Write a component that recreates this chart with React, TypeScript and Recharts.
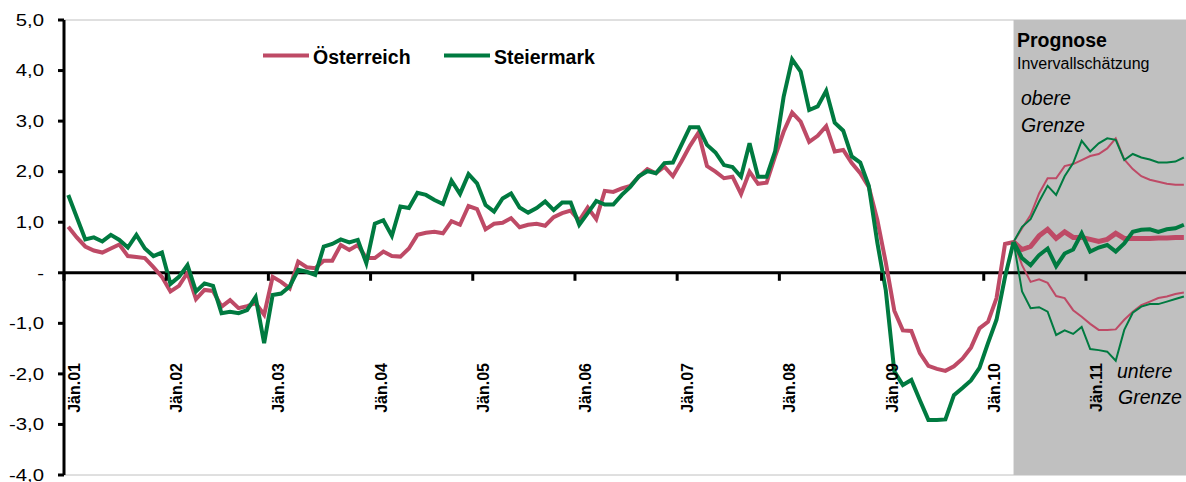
import React from 'react';
import {
  LineChart,
  Line,
  XAxis,
  YAxis,
  ReferenceArea,
  ReferenceLine,
  Legend
} from 'recharts';

// Monatswerte Jän.01 – Apr.10 (Index 0..111)
const oesterreich = [
  0.91, 0.70, 0.52, 0.44, 0.40, 0.48, 0.56, 0.33, 0.31, 0.29, 0.11, -0.08,
  -0.37, -0.26, 0.00, -0.52, -0.34, -0.36, -0.67, -0.54, -0.70, -0.66, -0.60, -0.83,
  -0.08, -0.18, -0.31, 0.22, 0.11, 0.09, 0.24, 0.24, 0.55, 0.45, 0.55, 0.29,
  0.29, 0.42, 0.33, 0.32, 0.48, 0.75, 0.79, 0.81, 0.78, 1.02, 0.95, 1.32,
  1.26, 0.86, 0.97, 0.99, 1.08, 0.90, 0.95, 0.97, 0.93, 1.10, 1.18, 1.23,
  1.03, 1.29, 1.06, 1.62, 1.60, 1.67, 1.72, 1.90, 2.05, 1.97, 2.10, 1.91,
  2.20, 2.51, 2.77, 2.11, 2.00, 1.87, 1.90, 1.56, 2.00, 1.76, 1.78, 2.30,
  2.79, 3.17, 2.99, 2.59, 2.71, 2.90, 2.40, 2.43, 2.17, 1.97, 1.70, 1.05,
  0.20, -0.75, -1.14, -1.15, -1.59, -1.84, -1.90, -1.94, -1.85, -1.70, -1.48, -1.10,
  -0.97, -0.50, 0.57, 0.61
];

const steiermark = [
  1.54, 1.10, 0.66, 0.70, 0.62, 0.75, 0.65, 0.50, 0.75, 0.48, 0.33, 0.40,
  -0.22, -0.08, 0.15, -0.37, -0.21, -0.26, -0.80, -0.77, -0.80, -0.74, -0.48, -1.39,
  -0.44, -0.41, -0.27, 0.06, 0.02, -0.04, 0.52, 0.57, 0.66, 0.60, 0.65, 0.19,
  0.97, 1.04, 0.73, 1.31, 1.28, 1.58, 1.54, 1.44, 1.36, 1.82, 1.56, 1.95,
  1.77, 1.34, 1.21, 1.47, 1.57, 1.29, 1.19, 1.28, 1.41, 1.24, 1.39, 1.39,
  0.95, 1.18, 1.42, 1.35, 1.35, 1.54, 1.70, 1.91, 2.01, 1.97, 2.17, 2.18,
  2.53, 2.88, 2.88, 2.53, 2.38, 2.13, 2.09, 1.90, 2.56, 1.90, 1.90, 2.40,
  3.48, 4.22, 3.98, 3.22, 3.29, 3.60, 2.97, 2.81, 2.30, 2.18, 1.72, 0.60,
  -0.35, -1.95, -2.22, -2.12, -2.52, -2.91, -2.91, -2.90, -2.42, -2.28, -2.13, -1.88,
  -1.39, -0.93, -0.08, 0.61
];

// Prognose Apr.10 – Dez.11 (Index 111..131)
const oeMitte = [0.61, 0.46, 0.52, 0.73, 0.86, 0.68, 0.81, 0.70, 0.70, 0.66, 0.62, 0.66, 0.78, 0.68, 0.68, 0.68, 0.68, 0.69, 0.69, 0.70, 0.70];
const oeOben = [0.61, 0.88, 1.14, 1.57, 1.87, 1.87, 2.11, 2.15, 2.23, 2.31, 2.35, 2.46, 2.66, 2.24, 2.05, 1.91, 1.84, 1.80, 1.76, 1.74, 1.74];
const oeUnten = [0.61, 0.15, -0.18, -0.13, -0.20, -0.46, -0.50, -0.74, -0.87, -1.01, -1.13, -1.13, -1.12, -0.93, -0.77, -0.64, -0.57, -0.50, -0.47, -0.42, -0.39];
const stMitte = [0.61, 0.29, 0.15, 0.35, 0.48, 0.13, 0.38, 0.46, 0.78, 0.42, 0.50, 0.55, 0.42, 0.58, 0.81, 0.85, 0.86, 0.81, 0.86, 0.88, 0.95];
const stOben = [0.61, 0.91, 1.06, 1.41, 1.72, 1.54, 1.91, 2.17, 2.61, 2.40, 2.56, 2.66, 2.63, 2.23, 2.35, 2.28, 2.24, 2.18, 2.18, 2.20, 2.28];
const stUnten = [0.61, -0.37, -0.70, -0.68, -0.77, -1.23, -1.14, -1.21, -1.07, -1.51, -1.53, -1.56, -1.74, -1.13, -0.79, -0.67, -0.62, -0.62, -0.57, -0.52, -0.47];

const tickLabels = ['Jän.01', 'Jän.02', 'Jän.03', 'Jän.04', 'Jän.05', 'Jän.06', 'Jän.07', 'Jän.08', 'Jän.09', 'Jän.10', 'Jän.11'];
const yTicks = [5, 4, 3, 2, 1, 0, -1, -2, -3, -4];

const PROG_START = 111;
const MONTHS = 132;

const RED = '#BE4A66';
const GREEN = '#007A40';
const FONT = '"Liberation Sans", Arial, Helvetica, sans-serif';

const W = 1186;
const H = 482;
const TOP = 20;
const BOTTOM_H = 7;
const Y_MIN = -4;
const Y_MAX = 5;
const plotH = H - TOP - BOTTOM_H;
const zeroY = TOP + (plotH * Y_MAX) / (Y_MAX - Y_MIN);

const data = Array.from({ length: MONTHS }, (_, i) => {
  const p = i - PROG_START;
  return {
    i,
    oe: i <= PROG_START ? oesterreich[i] : null,
    st: i <= PROG_START ? steiermark[i] : null,
    oeM: p >= 0 ? oeMitte[p] : null,
    oeO: p >= 0 ? oeOben[p] : null,
    oeU: p >= 0 ? oeUnten[p] : null,
    stM: p >= 0 ? stMitte[p] : null,
    stO: p >= 0 ? stOben[p] : null,
    stU: p >= 0 ? stUnten[p] : null
  };
});

// Jänner-Grenzen (Kategorien zwischen den Teilstrichen)
const xTicks = tickLabels.map((_, k) => k * 12 - 0.5);

const fmtY = (v: number) => (v === 0 ? '-' : v.toFixed(1).replace('.', ','));

const XTick = (props: any) => {
  const { x, index } = props;
  return (
    <g>
      <line x1={x} x2={x} y1={zeroY} y2={zeroY + 8} stroke="#000" strokeWidth={3} />
      <text
        transform={`translate(${x + 16},363) rotate(-90)`}
        textAnchor="end"
        fontFamily={FONT}
        fontWeight="bold"
        fontSize={16}
        fill="#000"
      >
        {tickLabels[index]}
      </text>
    </g>
  );
};

// Excel-Schrift der Achse wirkt breiter, daher leicht gestreckt
const YTick = (props: any) => {
  const { x, y, payload } = props;
  return (
    <text
      transform={`translate(${x},${y}) scale(1.27,1)`}
      dy="0.36em"
      textAnchor="end"
      fontFamily={FONT}
      fontSize={16}
      fill="#000"
    >
      {fmtY(payload.value)}
    </text>
  );
};

const legendItems = [
  { name: 'Österreich', color: RED, x: 0 },
  { name: 'Steiermark', color: GREEN, x: 181 }
];

const renderLegend = () => (
  <svg width={360} height={30}>
    {legendItems.map((it) => (
      <g key={it.name}>
        <line x1={it.x + 3} x2={it.x + 49} y1={15.5} y2={15.5} stroke={it.color} strokeWidth={4} />
        <text x={it.x + 53} y={24} fontFamily={FONT} fontWeight="bold" fontSize={19.5} fill="#000">
          {it.name}
        </text>
      </g>
    ))}
  </svg>
);

export default function App() {
  return (
    <div style={{ position: 'absolute', left: 0, top: 0, width: W, height: H, overflow: 'hidden', background: '#fff' }}>
      <LineChart width={W} height={H} data={data} margin={{ top: TOP, right: 0, bottom: 0, left: 0 }}>
        <ReferenceArea x1={PROG_START} x2={131.25} y1={Y_MIN} y2={Y_MAX} fill="#C0C0C0" fillOpacity={1} stroke="none" />
        <ReferenceLine y={Y_MAX} stroke="#C0C0C0" strokeWidth={1} />
        <ReferenceLine y={Y_MIN} stroke="#C0C0C0" strokeWidth={1} />
        <XAxis
          dataKey="i"
          type="number"
          domain={[-0.5, 131.25]}
          ticks={xTicks}
          interval={0}
          height={BOTTOM_H}
          axisLine={false}
          tickLine={false}
          tick={<XTick />}
          allowDataOverflow
        />
        <YAxis
          type="number"
          domain={[Y_MIN, Y_MAX]}
          ticks={yTicks}
          interval={0}
          width={64}
          tickSize={6}
          tickMargin={14}
          axisLine={{ stroke: '#000', strokeWidth: 3 }}
          tickLine={{ stroke: '#000', strokeWidth: 3 }}
          tick={<YTick />}
        />
        <ReferenceLine y={0} stroke="#000" strokeWidth={3} />
        <Legend
          layout="horizontal"
          verticalAlign="middle"
          align="center"
          content={renderLegend}
          wrapperStyle={{ position: 'absolute', left: 260, top: 40, width: 360, height: 30 }}
        />
        <Line dataKey="oeO" stroke={RED} strokeWidth={2} dot={false} isAnimationActive={false} legendType="none" />
        <Line dataKey="oeU" stroke={RED} strokeWidth={2} dot={false} isAnimationActive={false} legendType="none" />
        <Line dataKey="stO" stroke={GREEN} strokeWidth={2} dot={false} isAnimationActive={false} legendType="none" />
        <Line dataKey="stU" stroke={GREEN} strokeWidth={2} dot={false} isAnimationActive={false} legendType="none" />
        <Line dataKey="oeM" stroke={RED} strokeWidth={5} dot={false} isAnimationActive={false} legendType="none" />
        <Line dataKey="stM" stroke={GREEN} strokeWidth={4} dot={false} isAnimationActive={false} legendType="none" />
        <Line dataKey="oe" name="Österreich" stroke={RED} strokeWidth={4} dot={false} isAnimationActive={false} />
        <Line dataKey="st" name="Steiermark" stroke={GREEN} strokeWidth={4} dot={false} isAnimationActive={false} />
      </LineChart>
      <svg width={W} height={H} style={{ position: 'absolute', left: 0, top: 0, pointerEvents: 'none' }}>
        <g fontFamily={FONT} fill="#000">
          <text x={1017} y={46.5} fontWeight="bold" fontSize={19.5}>Prognose</text>
          <text x={1017} y={69.3} fontSize={16}>Invervallschätzung</text>
          <text x={1021} y={105} fontStyle="italic" fontSize={19.5}>obere</text>
          <text x={1021} y={131.5} fontStyle="italic" fontSize={19.5}>Grenze</text>
          <text x={1117} y={378} fontStyle="italic" fontSize={19.5}>untere</text>
          <text x={1118} y={403.5} fontStyle="italic" fontSize={19.5}>Grenze</text>
        </g>
      </svg>
    </div>
  );
}
